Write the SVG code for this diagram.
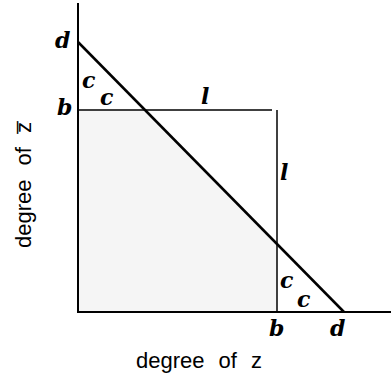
<svg xmlns="http://www.w3.org/2000/svg" width="391" height="377" viewBox="0 0 391 377">
<style>
.ax{stroke:#000;stroke-width:2;fill:none}
.thin{stroke:#000;stroke-width:1.5;fill:none}
.lab{font-family:"DejaVu Serif",serif;font-style:italic;font-weight:bold;font-size:22px;fill:#000}
.axl{font-family:"Liberation Sans",Arial,sans-serif;font-size:22px;fill:#000;word-spacing:8px}
</style>
<rect width="391" height="377" fill="#fff"/>
<polygon points="78,110 145,110 277,243.5 277,312 78,312" fill="#f5f5f5"/>
<g id="axes">
<line class="ax" x1="78" y1="3" x2="78" y2="312"/>
<line class="ax" x1="77" y1="312" x2="391" y2="312"/>
</g>
<g id="connectors">
<line class="thin" x1="78" y1="110" x2="272" y2="110"/>
<line class="thin" x1="277" y1="110" x2="277" y2="312"/>
<line stroke="#000" stroke-width="2.5" x1="78" y1="42" x2="344" y2="312"/>
</g>
<g id="labels">
<text class="lab" x="55" y="48">d</text>
<text class="lab" x="57" y="115">b</text>
<text class="lab" x="82" y="88">c</text>
<text class="lab" x="100" y="105">c</text>
<text class="lab" x="201" y="104">l</text>
<text class="lab" x="280" y="180">l</text>
<text class="lab" x="280" y="288">c</text>
<text class="lab" x="297" y="307">c</text>
<text class="lab" x="269" y="336">b</text>
<text class="lab" x="330" y="336">d</text>
</g>
<text class="axl" x="136" y="368">degree of z</text>
<text class="axl" transform="translate(31,185) rotate(-90)" text-anchor="middle">degree of z̅</text>
</svg>
